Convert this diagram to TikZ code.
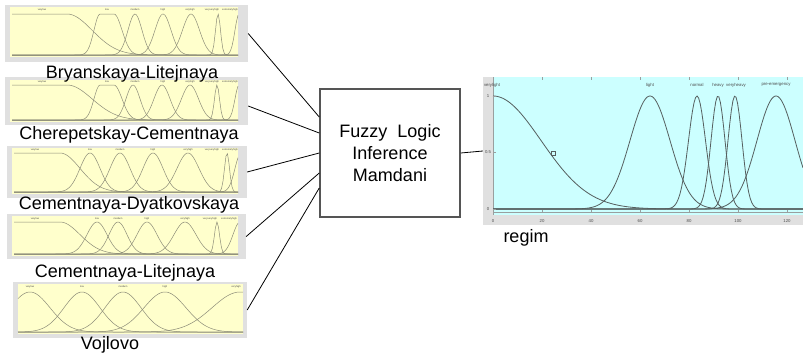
\documentclass[tikz,border=0pt]{standalone}
\usepackage{fontspec}
\setmainfont{Liberation Sans}
\usepackage{tikz}
\usetikzlibrary{positioning, calc}
\definecolor{panelgray}{RGB}{224,224,224}
\definecolor{mfyellow}{RGB}{255,255,204}
\definecolor{mfcyan}{RGB}{204,255,255}
\definecolor{mfline}{RGB}{140,140,120}
\definecolor{outline}{RGB}{85,95,95}
\definecolor{boxgray}{RGB}{85,85,85}
\tikzset{declare function={gs(\x,\c,\s)=exp(-min(((\x-\c)/\s)^2/2,12));
    gtwo(\x,\a,\s,\b,\t)=(\x<\a)*gs(\x,\a,\s)+(\x>=\a)*(\x<=\b)+(\x>\b)*gs(\x,\b,\t);}}

\begin{document}
\begin{tikzpicture}[x=1pt, y=-1pt,
		panel/.style={fill=panelgray, inner sep=0pt},
		mfcurve/.style={mfline, line width=0.5pt},
		outcurve/.style={outline, line width=0.8pt},
		mftext/.style={font=\fontsize{2.5}{2.5}\selectfont, text=black!70, inner sep=0pt},
		outtext/.style={font=\fontsize{4.3}{4.3}\selectfont, text=black!70, inner sep=0pt},
		plotname/.style={font=\fontsize{18}{21.6}\selectfont, anchor=base, inner sep=0pt},
		link/.style={line width=0.8pt}]
	\useasboundingbox (0,0) rectangle (803,354);
	%% input panels
	\node[panel, minimum width=243pt, minimum height=57pt] (p1) at (126.5,33.5) {};
	\fill[mfyellow] (10,7) rectangle (238,57);
	\draw[mfcurve] plot[domain=12:238, samples=150] (\x,{55-41*gtwo(\x,12,5,67,25)});
	\draw[mfcurve] plot[domain=12:238, samples=150] (\x,{55-41*gtwo(\x,100,6,114,8)});
	\foreach \c/\s in {135/7, 163/8, 191/8.5, 218/2.5, 239/4}
		\draw[mfcurve] plot[domain=12:238, samples=150] (\x,{55-41*gs(\x,\c,\s)});
	\foreach \xx/\lbl [count=\i] in {42/verylow, 107/low, 135/medium, 163/high, 190/veryhigh, 212/veryveryhigh, 230/extremelyhigh}
		\node[mftext] (p1t\i) at (\xx,10) {\lbl};
	
	\node[panel, minimum width=243pt, minimum height=48pt] (p2) at (126.5,101) {};
	\fill[mfyellow] (10,80) rectangle (238,122);
	\draw[mfcurve] plot[domain=12:238, samples=150] (\x,{120-35*gtwo(\x,12,5,67,25)});
	\draw[mfcurve] plot[domain=12:238, samples=150] (\x,{120-35*gtwo(\x,100,6,114,8)});
	\foreach \c/\s in {133/7, 162/8, 190/8.5, 217/2.5, 239/4}
		\draw[mfcurve] plot[domain=12:238, samples=150] (\x,{120-35*gs(\x,\c,\s)});
	\foreach \xx/\lbl [count=\i] in {42/verylow, 107/low, 135/medium, 163/high, 190/veryhigh, 212/veryveryhigh, 230/extremelyhigh}
		\node[mftext] (p2t\i) at (\xx,82) {\lbl};
	
	\node[panel, minimum width=240pt, minimum height=52pt] (p3) at (127,172) {};
	\fill[mfyellow] (12,148) rectangle (238,194);
	\draw[mfcurve] plot[domain=14:238, samples=150] (\x,{192-39*gtwo(\x,14,5,60,20)});
	\foreach \c/\s in {90/10, 120/10, 153/10, 188/11, 227/2.5, 241/6}
		\draw[mfcurve] plot[domain=14:238, samples=150] (\x,{192-39*gs(\x,\c,\s)});
	\foreach \xx/\lbl [count=\i] in {35/verylow, 90/low, 120/medium, 153/high, 188/veryhigh, 212/veryveryhigh, 230/extremelyhigh}
		\node[mftext] (p3t\i) at (\xx,150) {\lbl};
	
	\node[panel, minimum width=239pt, minimum height=45pt] (p4) at (126.5,236.5) {};
	\fill[mfyellow] (12,216) rectangle (238,256);
	\draw[mfcurve] plot[domain=14:238, samples=150] (\x,{254-32*gtwo(\x,14,5,60,20)});
	\foreach \c/\s in {97/10, 118/9, 147/10, 185/11, 217/2.5, 240/7}
		\draw[mfcurve] plot[domain=14:238, samples=150] (\x,{254-32*gs(\x,\c,\s)});
	\foreach \xx/\lbl [count=\i] in {35/verylow, 97/low, 118/medium, 147/high, 185/veryhigh, 210/veryveryhigh, 229/extremelyhigh}
		\node[mftext] (p4t\i) at (\xx,219) {\lbl};
	
	\node[panel, minimum width=234pt, minimum height=56pt] (p5) at (130,310) {};
	\fill[mfyellow] (18,284) rectangle (243,334);
	\foreach \c/\s in {30/20, 82/18, 123/18, 165/21, 240/28}
		\draw[mfcurve] plot[domain=18:243, samples=150] (\x,{332-40*gs(\x,\c,\s)});
	\foreach \xx/\lbl [count=\i] in {30/verylow, 82/low, 123/medium, 165/high, 236/veryhigh}
		\node[mftext] (p5t\i) at (\xx,287) {\lbl};
	
	%% output panel
	\node[panel, minimum width=320pt, minimum height=148pt] (regimplot) at (643,151) {};
	\fill[mfcyan] (493,77) rectangle (803,215);
	\draw[outline!60, line width=0.6pt] (493,212.5) -- (803,212.5);
	\draw[outline!60, line width=0.6pt] (493,77) -- (493,215);
	\draw[outcurve] plot[domain=493:803, samples=200] (\x,{209-113*gs(\x,493,48)});
	\foreach \c/\s in {650/20, 697/8.5, 718/7, 735/7, 776/19}
		\draw[outcurve] plot[domain=493:803, samples=200] (\x,{209-113*gs(\x,\c,\s)});
	\draw[outcurve, line width=0.5pt] (551,151) rectangle (555,155);
	\foreach \xx/\lbl [count=\i] in {492/verylight, 650/light, 697/normal, 718/heavy, 736/veryheavy, 776/pre-emergency}
		\node[outtext] (o\i) at (\xx,85) {\lbl};
	\foreach \v [count=\i] in {0,20,...,120} {
		\draw[outline!60, line width=0.4pt] ({493+2.45*\v},212.5) -- ({493+2.45*\v},210);
		\draw[outline!60, line width=0.4pt] ({493+2.45*\v},77) -- ({493+2.45*\v},79.5);
		\node[outtext] (x\i) at ({493+2.45*\v},221) {\v};
	}
	\foreach \yy/\lbl [count=\i] in {96/1, 152/0.5, 209/0} {
		\draw[outline!60, line width=0.4pt] (493,\yy) -- (496,\yy);
		\node[outtext] (y\i) at (488,\yy) {\lbl};
	}
	
	%% inference box
	\node[draw=boxgray, line width=1.5pt, minimum width=140pt, minimum height=128pt, align=center, font=\fontsize{18}{21.6}\selectfont] (fuzzy) at (390,153) {Fuzzy\ \ Logic\\Inference\\Mamdani};
	\coordinate (in1) at ([yshift=36pt]fuzzy.west);
	\coordinate (in2) at ([yshift=20pt]fuzzy.west);
	\coordinate (in3) at (fuzzy.west);
	\coordinate (in4) at ([yshift=-20pt]fuzzy.west);
	\coordinate (in5) at ([yshift=-35pt]fuzzy.west);
	\draw[link] (p1.east) -- (in1);
	\draw[link] ([yshift=-5pt]p2.east) -- (in2);
	\draw[link] (p3.east) -- (in3);
	\draw[link] (p4.east) -- (in4);
	\draw[link] (p5.east) -- (in5);
	\draw[link] (fuzzy.east) -- (regimplot.west);
	
	%% names
	\node[plotname] (n1) at (132,78) {Bryanskaya-Litejnaya};
	\node[plotname] (n2) at (129,139) {Cherepetskay-Cementnaya};
	\node[plotname] (n3) at (129,209) {Cementnaya-Dyatkovskaya};
	\node[plotname] (n4) at (125,277) {Cementnaya-Litejnaya};
	\node[plotname] (n5) at (110,349) {Vojlovo};
	\node[plotname] (n6) at (526,242) {regim};
\end{tikzpicture}
\end{document}
